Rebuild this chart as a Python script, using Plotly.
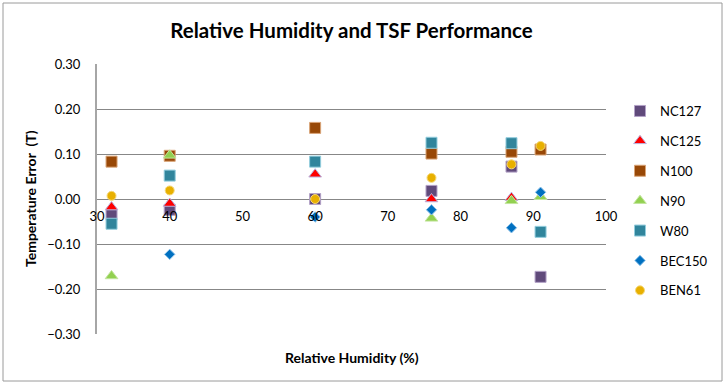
import plotly.graph_objects as go

humidity = [32, 40, 60, 76, 87, 91]

series_names = ["NC127", "NC125", "N100", "N90", "W80", "BEC150", "BEN61"]
nc127 = [-0.035, -0.024, 0.000, 0.018, 0.072, -0.173]
nc125 = [-0.018, -0.010, 0.055, 0.000, 0.003, 0.005]
n100 = [0.083, 0.096, 0.158, 0.101, 0.105, 0.110]
n90 = [-0.171, 0.097, None, -0.043, -0.004, 0.005]
w80 = [-0.055, 0.052, 0.083, 0.125, 0.124, -0.073]
bec150 = [None, -0.123, -0.040, -0.024, -0.064, 0.015]
ben61 = [0.007, 0.019, 0.000, 0.047, 0.077, 0.118]

x_ticks = [30, 40, 50, 60, 70, 80, 90, 100]
y_ticks = [-0.30, -0.20, -0.10, 0.00, 0.10, 0.20, 0.30]

values = [nc127, nc125, n100, n90, w80, bec150, ben61]
colors = ["#604A7B", "#FF0000", "#984807", "#92D050", "#31859C", "#0070C0", "#E8B000"]
outlines = ["#B3A2C7", "#B9B4E0", "#D9A477", "#C3E59E", "#93CDDD", "#8FC3EA", "#F5D87A"]
symbols = ["square", "triangle-up", "square", "triangle-up", "square", "diamond", "circle"]
sizes = [11, 11, 11, 11, 11, 8, 9]

FONT = "Lato, 'Liberation Sans Narrow', sans-serif"

fig = go.Figure()
for name, vals, c, oc, sym, sz in zip(series_names, values, colors, outlines, symbols, sizes):
    fig.add_trace(go.Scatter(
        x=humidity, y=vals, mode="markers", name=name, legendgroup=name,
        marker=dict(symbol=sym, size=sz, color=c, line=dict(color=oc, width=1)),
    ))

L, R, T, B = 97, 121, 64, 51
W, H = 727, 385
pw = W - L - R
ph = H - T - B

def px_x(p):
    return (p - L) / pw

def px_y(p):
    return (H - B - p) / ph

fig.update_layout(
    width=W, height=H,
    margin=dict(l=L, r=R, t=T, b=B, pad=0, autoexpand=False),
    paper_bgcolor="white", plot_bgcolor="white",
    font=dict(family=FONT, color="#000000", size=12),
    title=dict(text="<b>Relative Humidity and TSF Performance</b>", x=0.5, xref="paper",
               xanchor="center", y=1 - 31 / H, yanchor="middle",
               font=dict(size=20.5, family=FONT, color="#000000")),
    showlegend=True,
    legend=dict(xref="container", yref="container",
                x=620 / W, xanchor="left", y=1 - 96 / H, yanchor="top",
                font=dict(size=13, family=FONT), tracegroupgap=10,
                bgcolor="rgba(0,0,0,0)", itemwidth=30, maxheight=1000),
    xaxis=dict(range=[30, 100], tickvals=x_ticks, ticktext=[str(v) for v in x_ticks],
               showgrid=False, zeroline=False, showline=False,
               ticks="outside", ticklen=5, tickcolor="rgba(0,0,0,0)",
               anchor="free", position=0.5, tickfont=dict(size=13), automargin=False),
    yaxis=dict(range=[-0.30, 0.30], tickvals=y_ticks, tickformat=".2f",
               showgrid=True, gridcolor="#878787", gridwidth=1, zeroline=False,
               showline=True, linecolor="#A6A6A6", linewidth=2,
               ticks="outside", ticklen=12, tickcolor="rgba(0,0,0,0)",
               tickfont=dict(size=13), automargin=False),
)

fig.add_annotation(text="<b>Relative Humidity (%)</b>", xref="paper", yref="paper",
                   x=px_x(352), y=px_y(357), xanchor="center", yanchor="middle",
                   showarrow=False, font=dict(size=14, family=FONT))
fig.add_annotation(text="<b>Temperature Error  (T)</b>", xref="paper", yref="paper",
                   x=px_x(30), y=px_y(199), xanchor="center", yanchor="middle",
                   textangle=-90, showarrow=False, font=dict(size=14, family=FONT))

fig.add_shape(type="rect", xref="paper", yref="paper",
              x0=px_x(3), x1=px_x(722), y0=px_y(381), y1=px_y(3),
              line=dict(color="#9A9A9A", width=1), fillcolor="rgba(0,0,0,0)", layer="below")

fig.write_html("out.html", config={"displayModeBar": False},
               post_script="document.body.style.margin='0';")
